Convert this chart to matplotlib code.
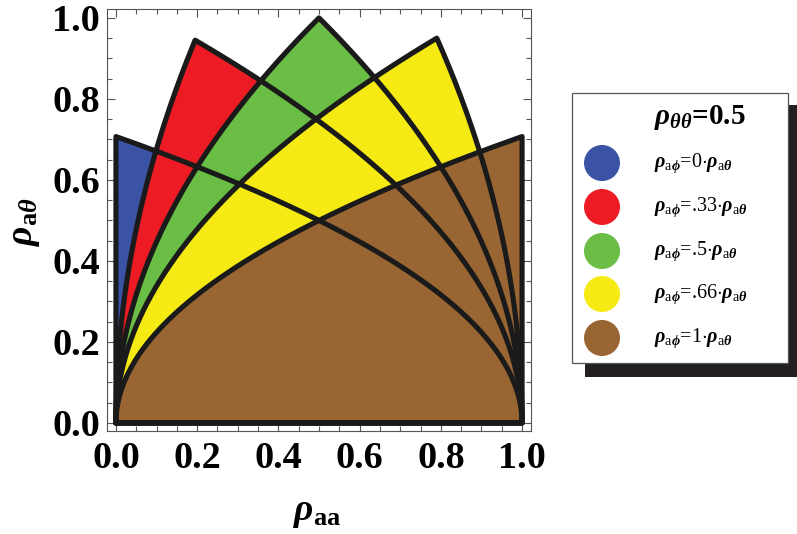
"""
Allowed region of rho_a_theta vs rho_aa for several rho_a_phi ratios.
"""

import numpy as np
import matplotlib
matplotlib.use("Agg")
import matplotlib.pyplot as plt
from matplotlib.patches import Rectangle, Circle

# values
rho_thth = "0.5"
ratio_labels = ["0", ".33", ".5", ".66", "1"]
peak_x = [0.0, 0.195, 0.5, 0.79, 1.0]      # where each region tops out
peak_y = [0.707, 0.945, 1.0, 0.95, 0.707]
colors = ["#3A53A4", "#ED1C24", "#6ABD45", "#F5EA14", "#996633"]

plt.rcParams["font.family"] = ["Liberation Serif", "DejaVu Serif"]
plt.rcParams["mathtext.fontset"] = "custom"
plt.rcParams["mathtext.rm"] = "Liberation Serif:weight=regular"
plt.rcParams["mathtext.it"] = "Liberation Serif:italic:bold"
plt.rcParams["mathtext.bf"] = "Liberation Serif:bold"

fig = plt.figure(figsize=(7.97, 5.34), dpi=100)
ax = fig.add_axes([107 / 797, 1 - 431 / 534, 424 / 797, 422 / 534])


def region(xp, yp, n=400):
    # boundary: sqrt shaped curve up from (0,0) to the peak, then down to (1,0)
    t = np.linspace(0, np.pi / 2, n)
    xs, ys = [0.0], [0.0]
    if xp > 0:
        xl = xp * (1 - np.cos(t))
        xs += list(xl)
        ys += list(yp * np.sqrt(xl / xp))
    else:
        xs.append(0.0)
        ys.append(yp)
    if xp < 1:
        xr = xp + (1 - xp) * np.sin(t)
        xs += list(xr)
        ys += list(yp * np.sqrt(np.clip((1 - xr) / (1 - xp), 0, None)))
    else:
        xs.append(1.0)
        ys.append(0.0)
    xs.append(0.0)
    ys.append(0.0)
    return np.array(xs), np.array(ys)


# fills first, then every outline on top
for i, (xp, yp) in enumerate(zip(peak_x, peak_y)):
    xs, ys = region(xp, yp)
    ax.fill(xs, ys, facecolor=colors[i], edgecolor="none", zorder=2 + i)
for xp, yp in zip(peak_x, peak_y):
    xs, ys = region(xp, yp)
    ax.plot(xs, ys, color="#1a1a1a", linewidth=3.7, solid_joinstyle="round",
            solid_capstyle="round", zorder=10)

ax.set_xlim(-0.022, 1.022)
ax.set_ylim(-0.02, 1.022)
ax.set_xticks(np.arange(0, 1.01, 0.2))
ax.set_yticks(np.arange(0, 1.01, 0.2))
ax.set_xticks(np.arange(0, 1.01, 0.05), minor=True)
ax.set_yticks(np.arange(0, 1.01, 0.05), minor=True)
ax.tick_params(which="both", direction="in", top=True, right=True, width=0.8, color="#555555")
ax.tick_params(which="major", length=6, labelsize=27.5, pad=7)
ax.tick_params(which="minor", length=3.5)
ax.tick_params(axis="y", pad=5)
for lab in ax.get_xticklabels() + ax.get_yticklabels():
    lab.set_fontweight("bold")
for s in ax.spines.values():
    s.set_linewidth(0.8)
    s.set_color("#555555")

fig.text(317 / 797, 1 - 513 / 534, r"$\rho_{\mathbf{aa}}$", fontsize=27,
         ha="center", va="center")
fig.text(25 / 797, 1 - 222 / 534, r"$\rho_{\mathbf{a}\theta}$", fontsize=27,
         ha="center", va="center", rotation=90)

# legend box drawn in pixel coordinates
lax = fig.add_axes([0, 0, 1, 1])
lax.set_xlim(0, 797)
lax.set_ylim(534, 0)
lax.axis("off")
lax.add_patch(Rectangle((585, 105), 212, 272, facecolor="#231f20", edgecolor="none"))
lax.add_patch(Rectangle((572, 93), 216, 270, facecolor="white", edgecolor="#555555",
                        linewidth=0.9))
lax.text(654, 118, r"$\rho_{\theta\theta}$=" + rho_thth, fontsize=21, fontweight="bold",
         ha="left", va="center")
row_y = [163, 207, 251, 294, 338]
for i, lab in enumerate(ratio_labels):
    lax.add_patch(Circle((602, row_y[i]), 18, facecolor=colors[i], edgecolor="none"))
    lax.text(654, row_y[i], r"$\rho_{\mathrm{a}\phi}$=" + lab + r"$\cdot\rho_{\mathrm{a}\theta}$",
             fontsize=14.5, ha="left", va="center")

fig.savefig("out.png", dpi=100)
